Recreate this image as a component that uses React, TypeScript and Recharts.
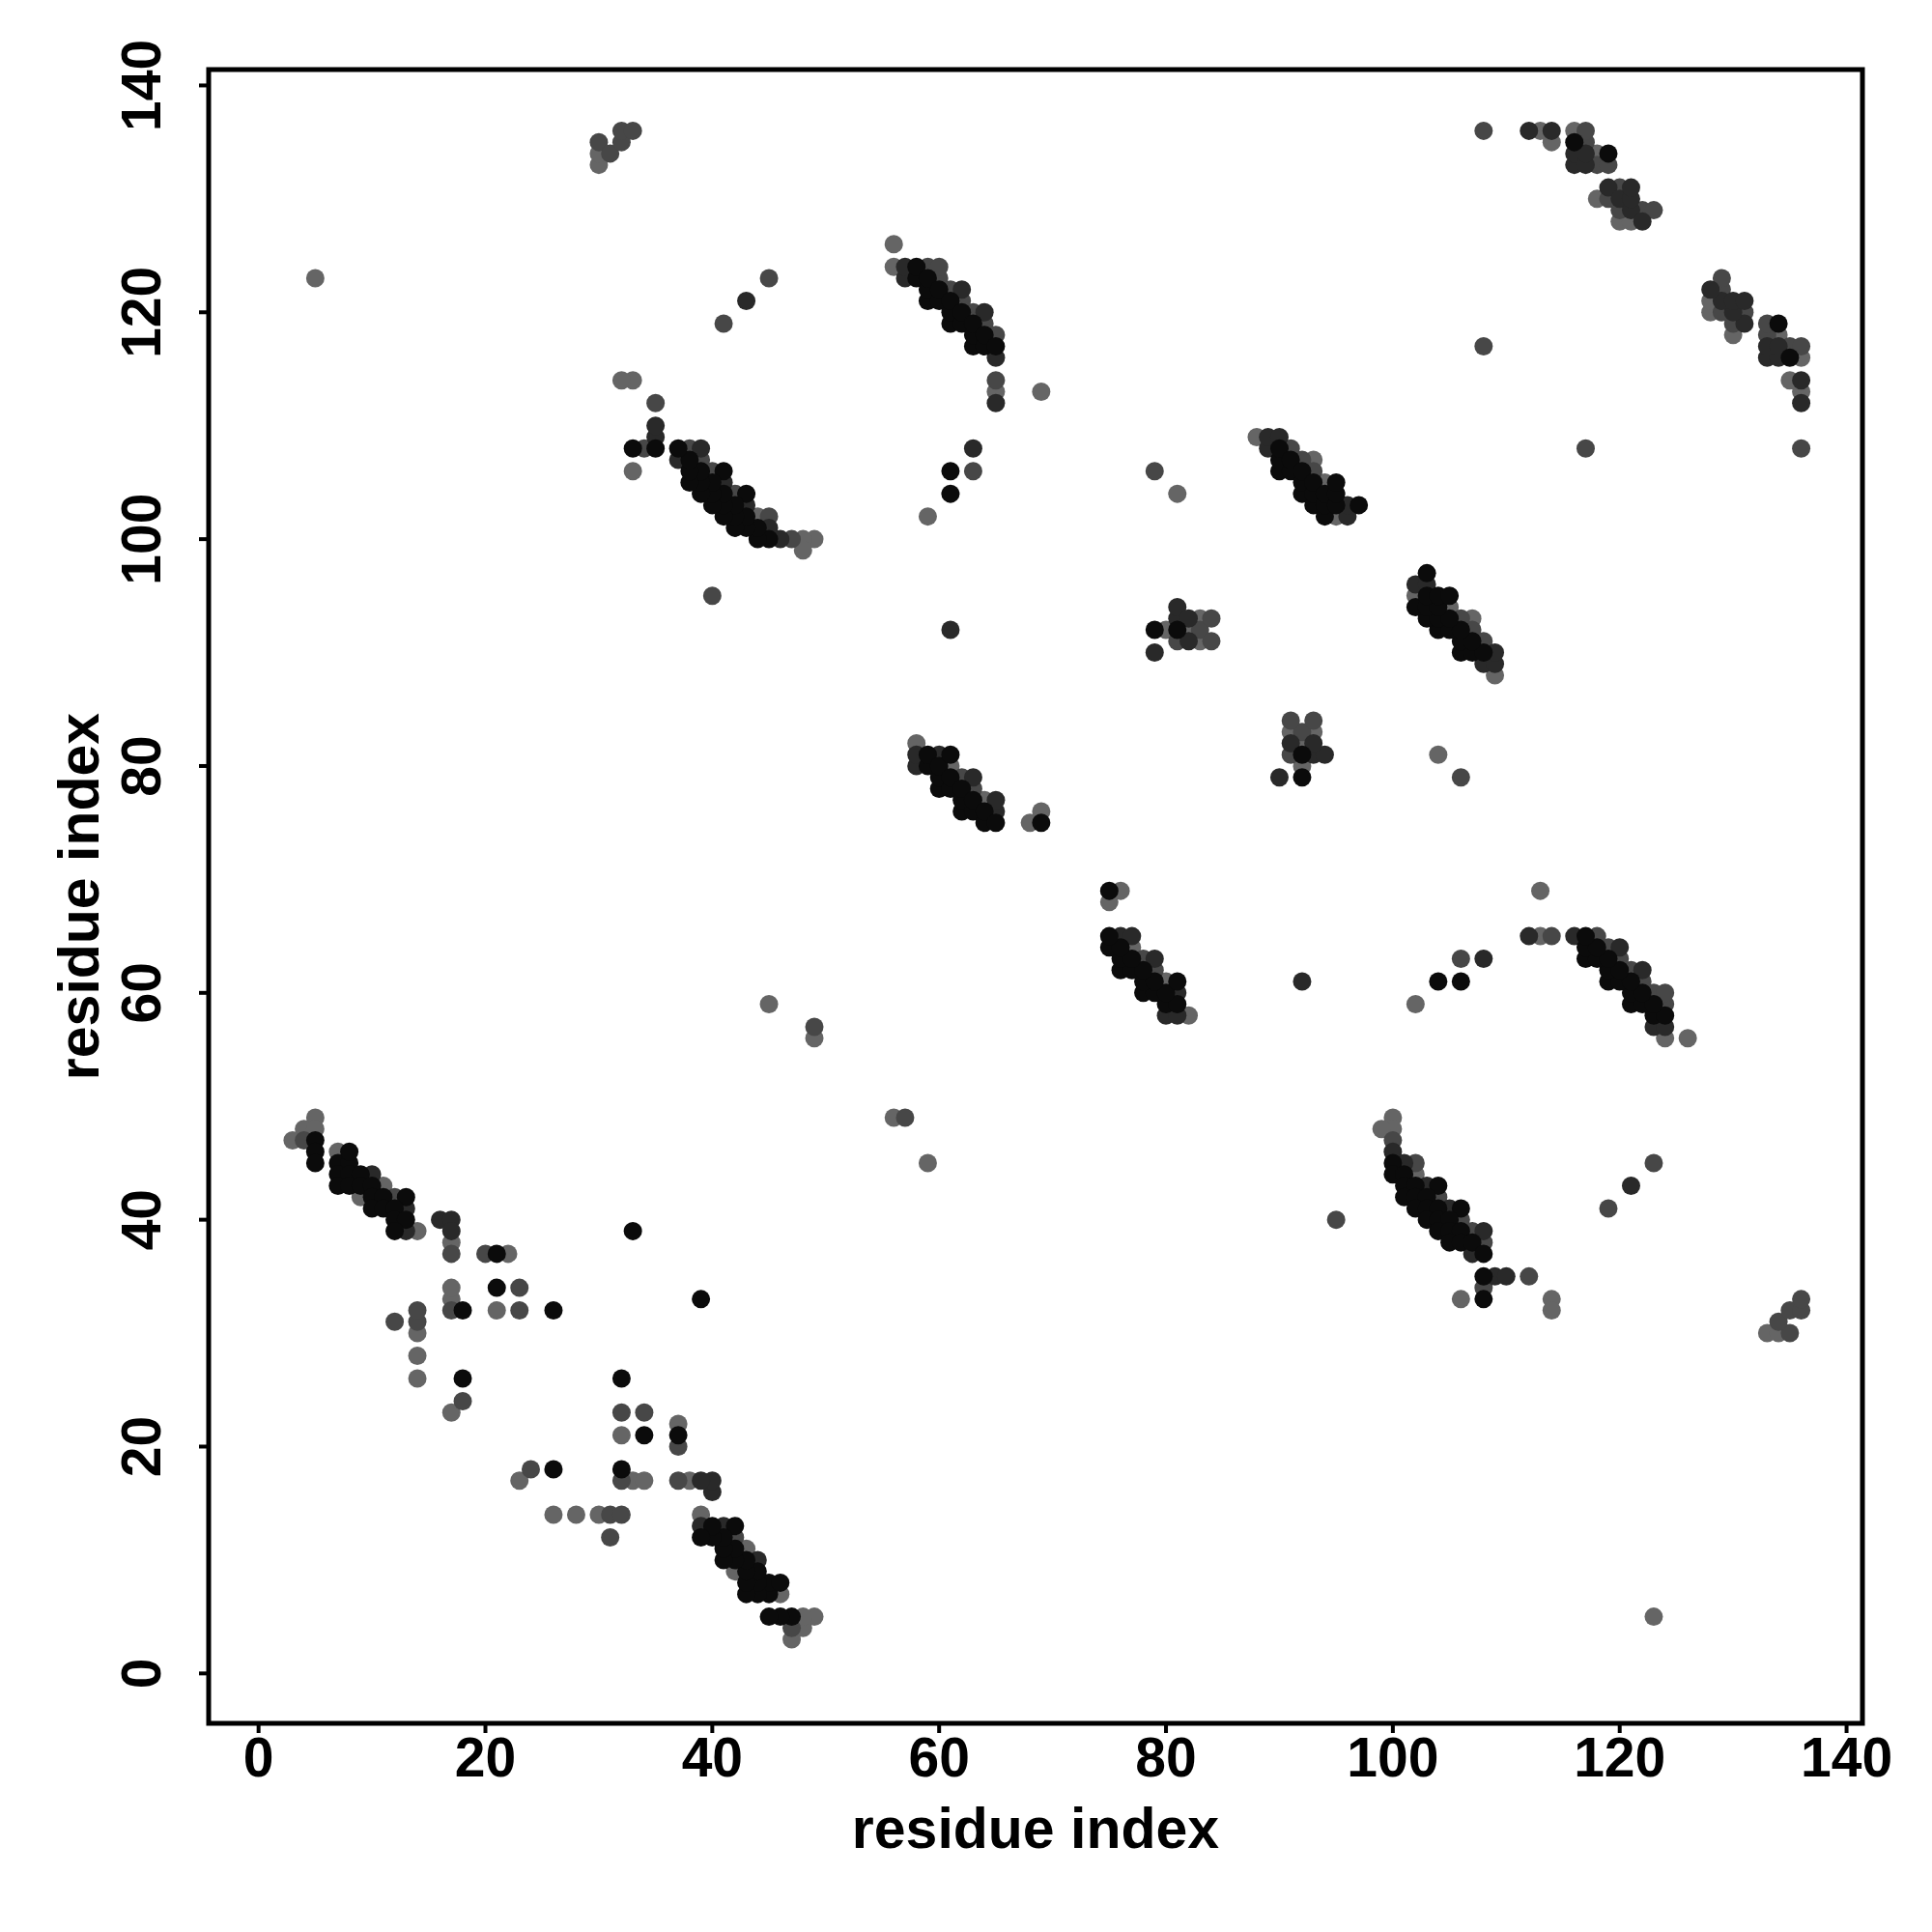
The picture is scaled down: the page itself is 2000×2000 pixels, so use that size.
import React from 'react';
import { ScatterChart, Scatter, XAxis, YAxis, ReferenceArea, Label } from 'recharts';

type Shade = 'l' | 'm' | 'd' | 'k';
type Contact = [number, number, Shade];

// contacts read off the upper triangle (y > x); the map is symmetric,
// so every contact also appears mirrored below the diagonal
const sheetA: Contact[] = [
  [49, 100, 'l'], [48, 100, 'l'], [48, 99, 'l'], [47, 100, 'm'], [46, 100, 'd'],
  [45, 100, 'k'], [45, 101, 'd'], [45, 102, 'm'],
  [44, 100, 'k'], [44, 101, 'k'], [44, 102, 'l'],
  [43, 101, 'k'], [43, 102, 'k'], [43, 103, 'd'], [43, 104, 'k'],
  [42, 101, 'k'], [42, 102, 'k'], [42, 103, 'k'], [42, 104, 'm'],
  [41, 102, 'k'], [41, 103, 'k'], [41, 104, 'k'], [41, 105, 'd'], [41, 106, 'k'],
  [40, 103, 'k'], [40, 104, 'k'], [40, 105, 'k'], [40, 106, 'm'],
  [39, 104, 'k'], [39, 105, 'k'], [39, 106, 'k'], [39, 107, 'm'], [39, 108, 'd'],
  [38, 105, 'k'], [38, 106, 'k'], [38, 107, 'k'], [38, 108, 'm'],
  [37, 107, 'd'], [37, 108, 'k'],
  [35, 108, 'k'], [35, 109, 'd'], [35, 110, 'd'], [35, 112, 'm'],
  [34, 108, 'm'], [33, 108, 'k'], [33, 106, 'l'], [33, 114, 'l'], [32, 114, 'l'],
  [40, 95, 'm'], [41, 119, 'm'], [43, 121, 'd'], [45, 123, 'm'], [5, 123, 'l'],
];

const sheetB: Contact[] = [
  [56, 126, 'l'], [56, 124, 'l'],
  [57, 123, 'd'], [57, 124, 'd'],
  [58, 123, 'k'], [58, 124, 'k'],
  [59, 121, 'k'], [59, 122, 'k'], [59, 123, 'k'], [59, 124, 'm'],
  [60, 121, 'k'], [60, 122, 'k'], [60, 123, 'm'], [60, 124, 'm'],
  [61, 119, 'k'], [61, 120, 'k'], [61, 121, 'k'], [61, 122, 'm'],
  [62, 119, 'k'], [62, 120, 'k'], [62, 121, 'm'], [62, 122, 'd'],
  [63, 117, 'k'], [63, 118, 'k'], [63, 119, 'k'], [63, 120, 'm'],
  [64, 117, 'k'], [64, 118, 'k'], [64, 119, 'm'], [64, 120, 'd'],
  [65, 112, 'd'], [65, 113, 'l'], [65, 114, 'm'], [65, 116, 'd'], [65, 117, 'k'], [65, 118, 'm'],
  [69, 113, 'l'],
  [59, 102, 'l'], [61, 104, 'k'], [61, 106, 'k'], [63, 106, 'm'], [63, 108, 'd'], [61, 92, 'd'],
];

const sheetC: Contact[] = [
  [88, 109, 'l'], [89, 108, 'd'], [89, 109, 'd'],
  [90, 106, 'k'], [90, 107, 'k'], [90, 108, 'k'], [90, 109, 'd'],
  [91, 106, 'k'], [91, 107, 'k'], [91, 108, 'm'],
  [92, 104, 'k'], [92, 105, 'k'], [92, 106, 'k'], [92, 107, 'm'],
  [93, 103, 'k'], [93, 104, 'k'], [93, 105, 'k'], [93, 106, 'm'], [93, 107, 'l'],
  [94, 102, 'k'], [94, 103, 'k'], [94, 104, 'k'], [94, 105, 'l'],
  [95, 102, 'l'], [95, 103, 'k'], [95, 104, 'k'], [95, 105, 'k'],
  [96, 102, 'd'], [96, 103, 'd'], [97, 103, 'k'],
  [79, 106, 'm'], [81, 104, 'l'],
];

const patchM: Contact[] = [
  [79, 90, 'd'], [79, 92, 'k'], [80, 92, 'l'],
  [81, 91, 'm'], [81, 92, 'k'], [81, 93, 'd'], [81, 94, 'd'],
  [82, 91, 'd'], [82, 92, 'l'], [82, 93, 'd'],
  [83, 91, 'l'], [83, 92, 'm'], [83, 93, 'l'],
  [84, 91, 'm'], [84, 93, 'm'],
];

const sheetG: Contact[] = [
  [58, 80, 'd'], [58, 81, 'd'], [58, 82, 'l'],
  [59, 80, 'k'], [59, 81, 'k'],
  [60, 78, 'k'], [60, 79, 'k'], [60, 80, 'k'], [60, 81, 'd'],
  [61, 78, 'k'], [61, 79, 'k'], [61, 80, 'l'], [61, 81, 'k'],
  [62, 76, 'k'], [62, 77, 'k'], [62, 78, 'k'], [62, 79, 'm'],
  [63, 76, 'k'], [63, 77, 'k'], [63, 78, 'm'], [63, 79, 'd'],
  [64, 75, 'k'], [64, 76, 'k'], [64, 77, 'l'],
  [65, 75, 'k'], [65, 76, 'd'], [65, 77, 'd'],
  [68, 75, 'l'], [69, 75, 'k'], [69, 76, 'l'],
  [45, 59, 'l'], [49, 56, 'l'], [49, 57, 'm'],
];

const sheetE: Contact[] = [
  [108, 136, 'm'], [108, 117, 'm'],
  [112, 136, 'd'], [113, 136, 'l'], [114, 136, 'd'], [114, 135, 'l'],
  [116, 133, 'd'], [116, 134, 'd'], [116, 135, 'k'], [116, 136, 'l'],
  [117, 133, 'd'], [117, 134, 'd'], [117, 135, 'm'], [117, 136, 'm'],
  [118, 133, 'm'], [118, 134, 'l'], [119, 133, 'm'], [119, 134, 'k'],
  [118, 130, 'l'], [119, 130, 'm'], [119, 131, 'd'],
  [120, 128, 'l'], [120, 129, 'm'], [120, 130, 'd'], [120, 131, 'm'],
  [121, 128, 'l'], [121, 129, 'd'], [121, 130, 'd'], [121, 131, 'd'],
  [122, 128, 'd'], [122, 129, 'm'], [123, 129, 'm'],
];

const sheetK: Contact[] = [
  [5, 49, 'l'], [4, 48, 'l'], [5, 48, 'l'], [3, 47, 'l'], [4, 47, 'm'], [5, 47, 'k'], [5, 46, 'k'], [5, 45, 'k'],
  [7, 45, 'k'], [7, 46, 'l'], [8, 45, 'k'], [8, 46, 'k'],
  [7, 44, 'k'], [8, 44, 'k'], [9, 44, 'k'], [10, 44, 'd'],
  [7, 43, 'k'], [8, 43, 'k'], [9, 43, 'k'], [10, 43, 'k'], [11, 43, 'l'],
  [9, 42, 'l'], [10, 42, 'k'], [11, 42, 'k'], [12, 42, 'm'], [13, 42, 'k'],
  [10, 41, 'k'], [11, 41, 'k'], [12, 41, 'k'], [13, 41, 'd'],
  [12, 40, 'k'], [13, 40, 'k'],
  [12, 39, 'k'], [13, 39, 'd'], [14, 39, 'l'],
  [16, 40, 'd'], [17, 40, 'd'], [17, 39, 'd'], [17, 38, 'l'], [17, 37, 'm'],
];

const scattered: Contact[] = [
  [20, 37, 'm'], [21, 37, 'k'], [22, 37, 'l'],
  [17, 32, 'm'], [17, 33, 'l'], [17, 34, 'l'], [18, 32, 'k'],
  [21, 32, 'l'], [21, 34, 'k'], [23, 32, 'm'], [23, 34, 'm'], [26, 32, 'k'],
  [12, 31, 'm'], [14, 26, 'l'], [14, 28, 'l'], [14, 30, 'l'], [14, 31, 'm'], [14, 32, 'm'],
  [17, 23, 'l'], [18, 24, 'm'], [18, 26, 'k'],
  [33, 39, 'k'],
  [30, 133, 'l'], [30, 134, 'l'], [30, 135, 'm'], [31, 134, 'm'],
  [32, 135, 'm'], [32, 136, 'm'], [33, 136, 'm'],
];

const ticks = [0, 20, 40, 60, 80, 100, 120, 140];
const shadeOrder: Shade[] = ['l', 'm', 'd', 'k'];
const shadeColor: Record<Shade, string> = { l: '#656565', m: '#474747', d: '#292929', k: '#0b0b0b' };

const upper = [...sheetA, ...sheetB, ...sheetC, ...patchM, ...sheetG, ...sheetE, ...sheetK, ...scattered];
const contacts = upper.flatMap(([i, j, s]) => [
  { x: i, y: j, s },
  { x: j, y: i, s },
]);

const DOMAIN: [number, number] = [-4.4, 141.4];
const FONT = "'Liberation Sans', Arial, Helvetica, sans-serif";

const XTick = ({ x, payload }: any) => (
  <text x={x} y={1839} textAnchor="middle" fontFamily={FONT} fontWeight="bold" fontSize={57} fill="#000">
    {payload.value}
  </text>
);

const YTick = ({ y, payload }: any) => (
  <text
    x={166}
    y={y}
    transform={`rotate(-90, 166, ${y})`}
    textAnchor="middle"
    fontFamily={FONT}
    fontWeight="bold"
    fontSize={57}
    fill="#000"
  >
    {payload.value}
  </text>
);

const App: React.FC = () => {
  return (
    <div style={{ position: 'absolute', left: 0, top: 0, width: 2000, height: 2000, background: '#fff' }}>
      <ScatterChart width={2000} height={2000} margin={{ top: 72, right: 72, bottom: 116, left: 116 }}>
        <XAxis
          type="number"
          dataKey="x"
          domain={DOMAIN}
          ticks={ticks}
          allowDataOverflow
          height={100}
          axisLine={false}
          tickSize={10}
          tickLine={{ stroke: '#000', strokeWidth: 4 }}
          tick={<XTick />}
        >
          <Label
            content={() => (
              <text x={1072} y={1913} textAnchor="middle" fontFamily={FONT} fontWeight="bold" fontSize={59} fill="#000">
                residue index
              </text>
            )}
          />
        </XAxis>
        <YAxis
          type="number"
          dataKey="y"
          domain={DOMAIN}
          ticks={ticks}
          allowDataOverflow
          width={100}
          axisLine={false}
          tickSize={10}
          tickLine={{ stroke: '#000', strokeWidth: 4 }}
          tick={<YTick />}
        >
          <Label
            content={() => (
              <text
                x={102}
                y={928}
                transform="rotate(-90, 102, 928)"
                textAnchor="middle"
                fontFamily={FONT}
                fontWeight="bold"
                fontSize={59}
                fill="#000"
              >
                residue index
              </text>
            )}
          />
        </YAxis>
        {shadeOrder.map((s) => (
          <Scatter
            key={s}
            data={contacts.filter((c) => c.s === s)}
            isAnimationActive={false}
            shape={(p: any) => <circle cx={p.cx} cy={p.cy} r={9.5} fill={shadeColor[s]} />}
          />
        ))}
        <ReferenceArea
          x1={DOMAIN[0]}
          x2={DOMAIN[1]}
          y1={DOMAIN[0]}
          y2={DOMAIN[1]}
          fill="none"
          fillOpacity={0}
          stroke="#000"
          strokeWidth={5}
          ifOverflow="visible"
        />
      </ScatterChart>
    </div>
  );
};

export default App;
